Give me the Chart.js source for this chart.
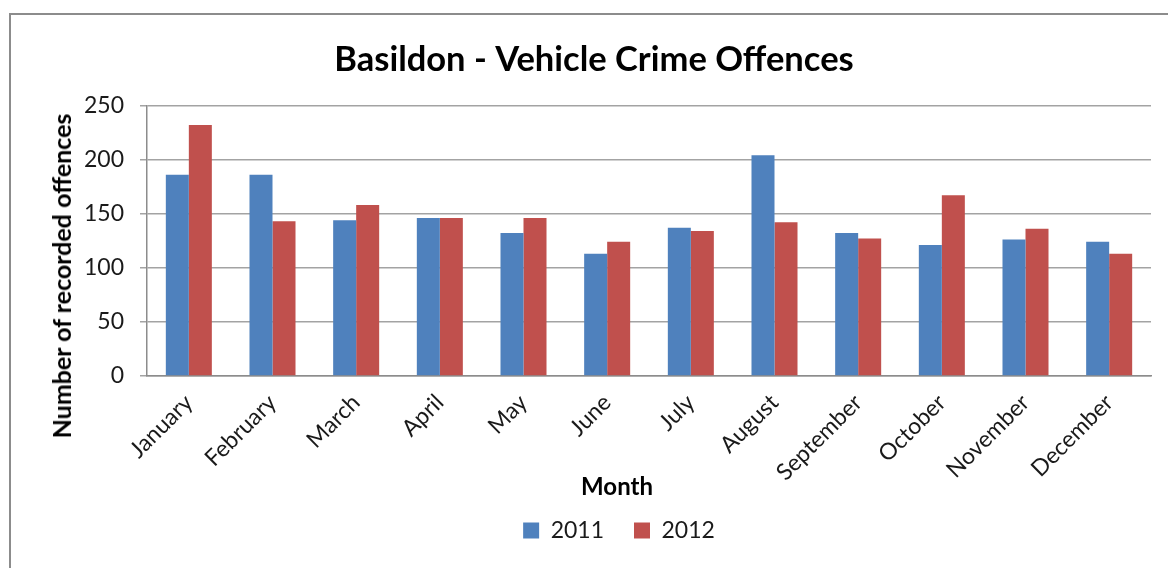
<!DOCTYPE html>
<html>
<head>
<meta charset="utf-8">
<script src="https://cdn.jsdelivr.net/npm/chart.js@4.4.1/dist/chart.umd.min.js"></script>
<style>
  html, body { margin: 0; padding: 0; background: #fff; }
  body { width: 1168px; height: 568px; position: relative; overflow: hidden; font-family: Lato, sans-serif; }
  .frame { position: absolute; left: 9px; top: 13px; width: 1300px; height: 700px; border-left: 2px solid #8c8c8c; border-top: 2px solid #8c8c8c; }
  #wrap { position: absolute; left: 0; top: 0; width: 1168px; height: 568px; }
  .y-title { position: absolute; left: 61px; top: 276px; transform: translate(-50%, -50%) rotate(-90deg); white-space: nowrap; font-weight: bold; font-size: 25px; color: #000; }
  .x-title { position: absolute; left: 617px; top: 485px; transform: translate(-50%, -50%); white-space: nowrap; font-weight: bold; font-size: 24px; color: #000; }
</style>
</head>
<body>
<div class="frame"></div>
<div id="wrap"><canvas id="chart"></canvas></div>
<div class="y-title">Number of recorded offences</div>
<div class="x-title">Month</div>
<script>
const months = ['January', 'February', 'March', 'April', 'May', 'June', 'July', 'August', 'September', 'October', 'November', 'December'];
const values2011 = [186, 186, 144, 146, 132, 113, 137, 204, 132, 121, 126, 124];
const values2012 = [232, 143, 158, 146, 146, 124, 134, 142, 127, 167, 136, 113];
const seriesNames = ['2011', '2012'];
const yTicks = [0, 50, 100, 150, 200, 250];

// excel doesn't center the legend on the title, nudge it
const shiftLegend = {
  id: 'shiftLegend',
  afterLayout(chart) {
    const l = chart.legend;
    l.left += 25; l.right += 25;
  }
};

Chart.defaults.font.family = 'Lato, sans-serif';
Chart.defaults.color = '#1a1a1a';

const ctx = document.getElementById('chart').getContext('2d');

new Chart(ctx, {
  type: 'bar',
  data: {
    labels: months,
    datasets: [
      { label: seriesNames[0], data: values2011, backgroundColor: '#4F81BD' },
      { label: seriesNames[1], data: values2012, backgroundColor: '#C0504D' },
    ]
  },
  options: {
    responsive: true,
    maintainAspectRatio: false,
    animation: false,
    categoryPercentage: 0.55,
    barPercentage: 1.0,
    layout: { padding: { left: 37, right: 17, top: 0, bottom: 16 } },
    scales: {
      x: {
        grid: { display: false, drawTicks: false },
        border: { display: true, color: '#8c8c8c', width: 1.5 },
        ticks: {
          maxRotation: 45,
          minRotation: 45,
          padding: 13,
          font: { size: 23 },
          color: '#1a1a1a',
        },
        afterFit(scale) { scale.height = 113; },
      },
      y: {
        min: 0,
        max: 250,
        afterBuildTicks(scale) { scale.ticks = yTicks.map(v => ({ value: v })); },
        grid: { color: '#a3a3a3', lineWidth: 1.5, tickLength: 7 },
        border: { color: '#8c8c8c', width: 1.5 },
        ticks: { padding: 16, font: { size: 23 }, color: '#1a1a1a' },
        afterFit(scale) { scale.width = 110; },
      },
    },
    plugins: {
      tooltip: { enabled: false },
      title: {
        display: true,
        text: 'Basildon - Vehicle Crime Offences',
        color: '#000',
        font: { size: 34.5, weight: 'bold' },
        padding: { top: 39, bottom: 25 },
      },
      legend: {
        position: 'bottom',
        labels: {
          boxWidth: 16,
          boxHeight: 16,
          padding: 30,
          font: { size: 23 },
          color: '#1a1a1a',
        },
      },
    },
  },
  plugins: [shiftLegend],
});
</script>
</body>
</html>
